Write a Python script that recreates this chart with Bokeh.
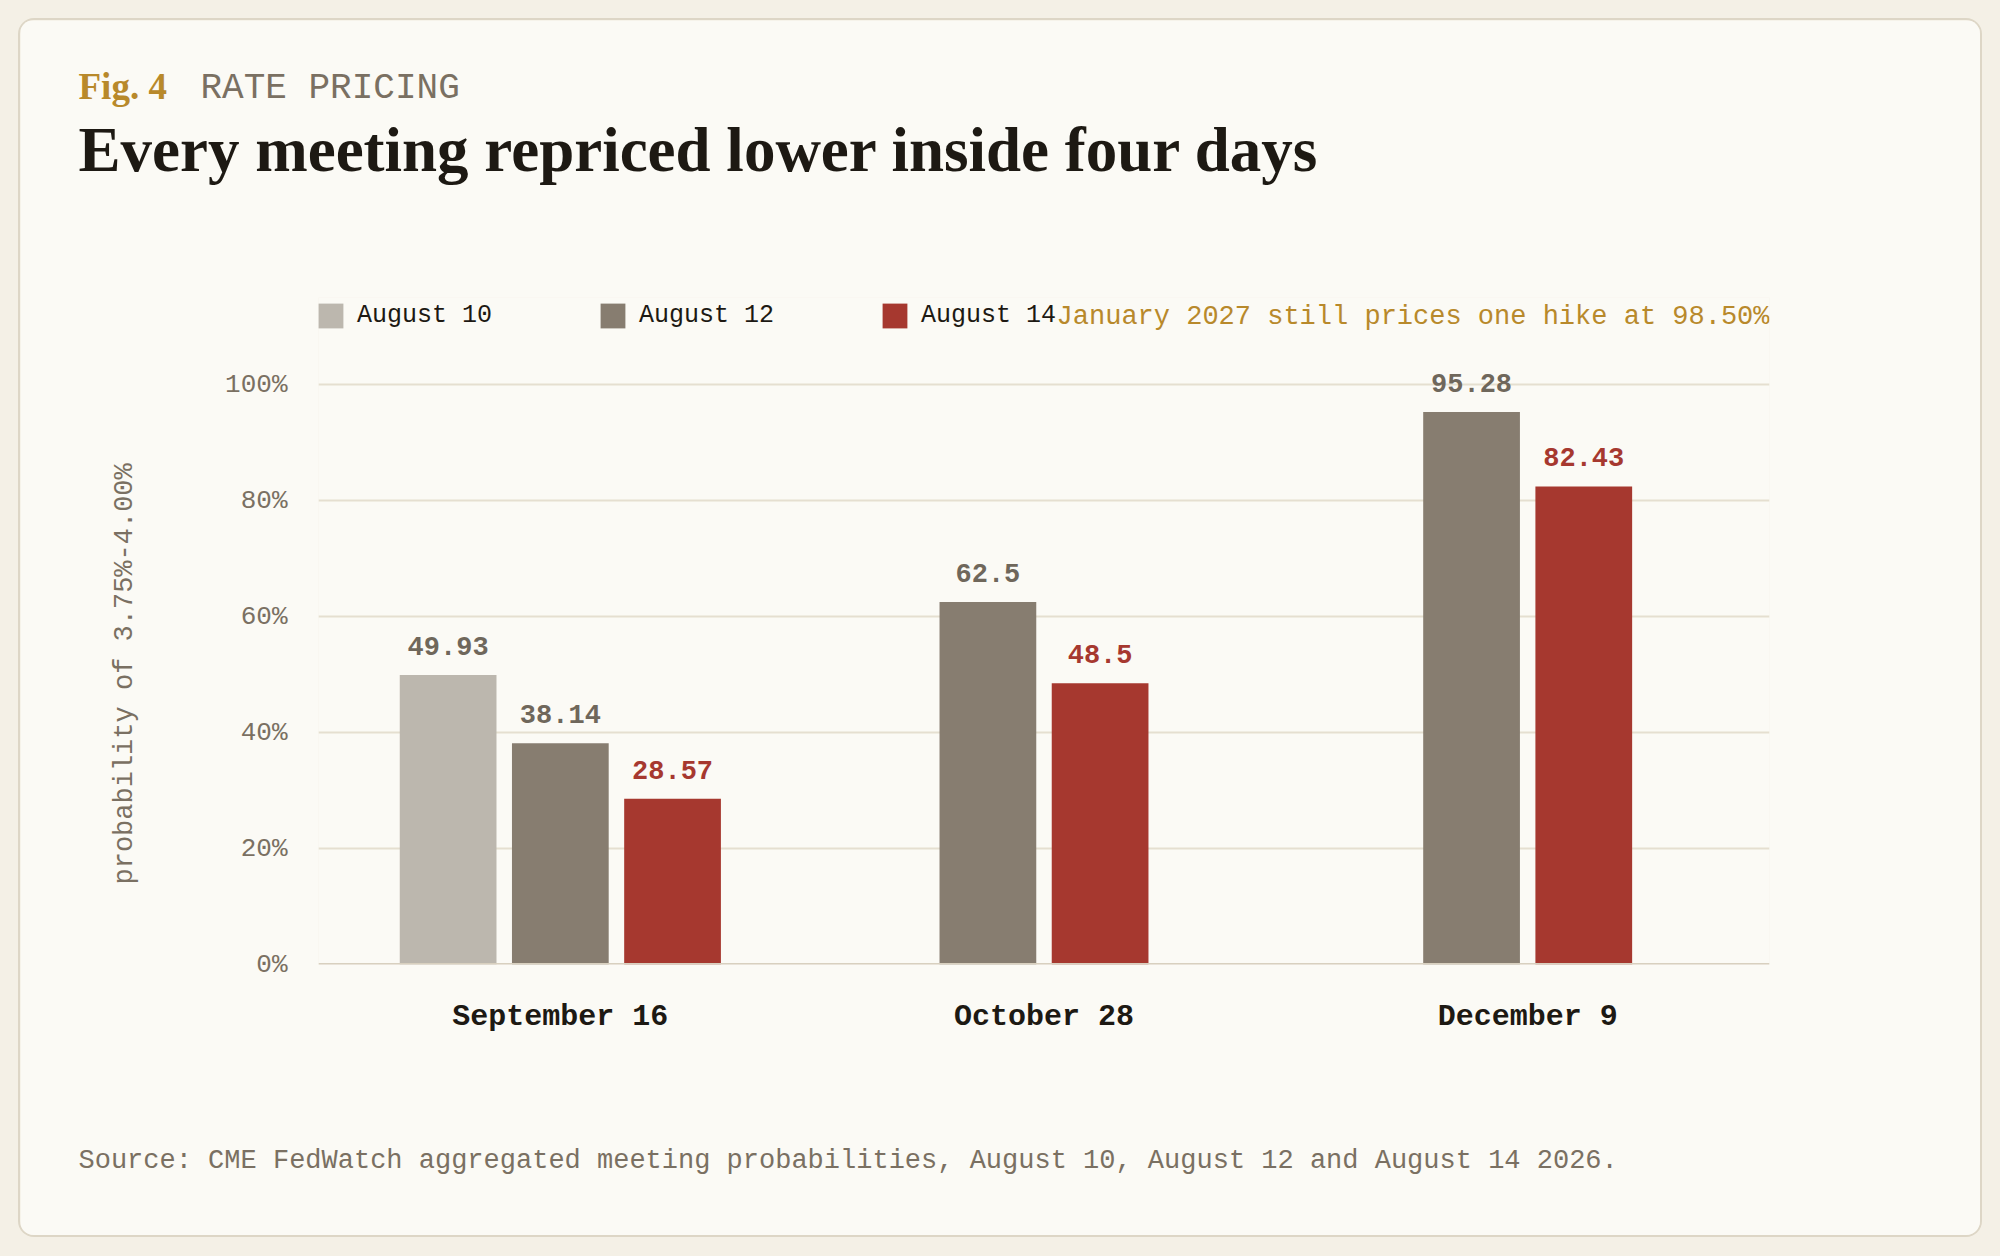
import math
from bokeh.plotting import figure
from bokeh.layouts import column
from bokeh.models import (ColumnDataSource, FactorRange, Range1d, FixedTicker, Label,
                          Legend, LegendItem, Span, Title)
from bokeh.embed import file_html
from bokeh.resources import INLINE
from bokeh.core.properties import value

# ---------------- data ----------------
meetings = ["September 16", "October 28", "December 9"]
series_names = ["August 10", "August 12", "August 14"]
aug10 = [49.93, None, None]
aug12 = [38.14, 62.5, 95.28]
aug14 = [28.57, 48.5, 82.43]
y_ticks = [0, 20, 40, 60, 80, 100]
y_tick_labels = ["0%", "20%", "40%", "60%", "80%", "100%"]

title_kicker = "Fig. 4"
title_section = "RATE PRICING"
title_text = "Every meeting repriced lower inside four days"
note_text = "January 2027 still prices one hike at 98.50%"
y_label = "probability of 3.75%-4.00%"
source_text = "Source: CME FedWatch aggregated meeting probabilities, August 10, August 12 and August 14 2026."

# ---------------- style ----------------
PAGE_BG = "#f4f0e6"
CARD_BG = "#fbfaf5"
CARD_LINE = "#ddd6c6"
BAR_COLORS = ["#bcb7ae", "#877d70", "#a6382f"]
LABEL_COLORS = ["#6f675b", "#6f675b", "#a6382f"]
GOLD = "#b8892b"
MUTED = "#7a7062"
INK = "#1d1913"
MONO = "Liberation Mono"
SERIF = "Liberation Serif"

OX, OY = 20, 20            # card origin on page
W, H = 1960, 1215          # card size
FL, FR, FT, FB = 298, 211, 277, 271
STEP = 0.232
BAR_W = 0.2

p = figure(width=W, height=H, x_range=FactorRange(*meetings, range_padding=0, factor_padding=0),
           y_range=Range1d(0, 115), output_backend="svg", toolbar_location=None,
           min_border_left=FL, min_border_right=FR, min_border_top=FT, min_border_bottom=FB,
           title=None)
p.background_fill_color = CARD_BG
p.border_fill_color = CARD_BG
p.outline_line_color = None
p.styles = {"border-radius": "14px", "overflow": "hidden",
            "box-shadow": "0 0 0 2px " + CARD_LINE}

# bars
all_series = [aug10, aug12, aug14]
renderers = []
for si, vals in enumerate(all_series):
    xs, tops, texts = [], [], []
    for mi, m in enumerate(meetings):
        if vals[mi] is None:
            continue
        present = [k for k in range(len(all_series)) if all_series[k][mi] is not None]
        n = len(present)
        off = (present.index(si) - (n - 1) / 2) * STEP
        xs.append((m, off))
        tops.append(vals[mi])
        texts.append(str(vals[mi]))
    src = ColumnDataSource(dict(x=xs, top=tops, label=texts))
    r = p.vbar(x="x", top="top", width=BAR_W, bottom=0, source=src,
               fill_color=BAR_COLORS[si], line_color=None)
    renderers.append(r)
    p.text(x="x", y="top", text="label", source=src, text_align="center", text_baseline="middle",
           y_offset=-29, text_font=value(MONO), text_font_style="bold", text_font_size="27px",
           text_color=LABEL_COLORS[si])

# axes
p.yaxis.ticker = FixedTicker(ticks=y_ticks)
p.yaxis.major_label_overrides = {t: l for t, l in zip(y_ticks, y_tick_labels)}
p.yaxis.axis_line_color = None
p.yaxis.major_tick_line_color = None
p.yaxis.minor_tick_line_color = None
p.yaxis.major_tick_out = 0
p.yaxis.minor_tick_out = 0
p.yaxis.major_label_standoff = 31
p.yaxis.major_label_text_font = MONO
p.yaxis.major_label_text_font_size = "26px"
p.yaxis.major_label_text_color = MUTED

p.xaxis.axis_line_color = None
p.xaxis.major_tick_line_color = None
p.xaxis.minor_tick_line_color = None
p.xaxis.major_tick_out = 0
p.xaxis.minor_tick_out = 0
p.xaxis.major_label_standoff = 35
p.xaxis.major_label_text_font = MONO
p.xaxis.major_label_text_font_style = "bold"
p.xaxis.major_label_text_font_size = "30px"
p.xaxis.major_label_text_color = INK

p.xgrid.grid_line_color = None
p.ygrid.grid_line_color = "#e5dfd0"
p.ygrid.grid_line_width = 2
p.add_layout(Span(location=0, dimension="width", line_color="#d8d0bf", line_width=3))

# y axis title (left side panel), centred on the 0-100 span
p.add_layout(Title(text=y_label, align="left", offset=80, vertical_align="middle", standoff=164,
                   text_font=MONO, text_font_style="normal", text_font_size="27px",
                   text_color=MUTED), "left")

# legend
legend = Legend(items=[LegendItem(label=n, renderers=[r]) for n, r in zip(series_names, renderers)],
                orientation="horizontal", location=(-3, 633), padding=0, margin=0,
                spacing=105, glyph_width=31, glyph_height=31, label_standoff=11,
                label_text_font=MONO, label_text_font_size="25px", label_text_color=INK,
                border_line_color=None, background_fill_alpha=0)
p.add_layout(legend)

# note inside the frame (right aligned to frame edge)
p.add_layout(Label(x=W - FL - FR, y=(H - FB) - (316 - OY), x_units="screen", y_units="screen",
                   text=note_text, text_align="right", text_baseline="middle",
                   text_font=MONO, text_font_size="27px", text_color=GOLD))

# texts outside the frame, placed in the top side panel (not clipped)
def top_label(text, ax, ay, **kw):
    p.add_layout(Label(x=ax - OX - FL, y=FT - (ay - OY), x_units="screen", y_units="screen",
                       text=text, text_baseline="middle", **kw), "above")

top_label(title_kicker, 78, 86, text_font=SERIF, text_font_style="bold", text_font_size="37px", text_color=GOLD)
top_label(title_section, 200, 129, text_font=MONO, text_font_size="36px", text_color=MUTED)
top_label(title_text, 78, 231, text_font=SERIF, text_font_style="bold", text_font_size="63px", text_color=INK)
top_label(source_text, 78, 1312, text_font=MONO, text_font_size="27px", text_color=MUTED)

page = column(p, styles={"background-color": PAGE_BG, "padding": "20px 20px 21px 20px"})
open("out.html", "w").write(file_html(page, INLINE))
